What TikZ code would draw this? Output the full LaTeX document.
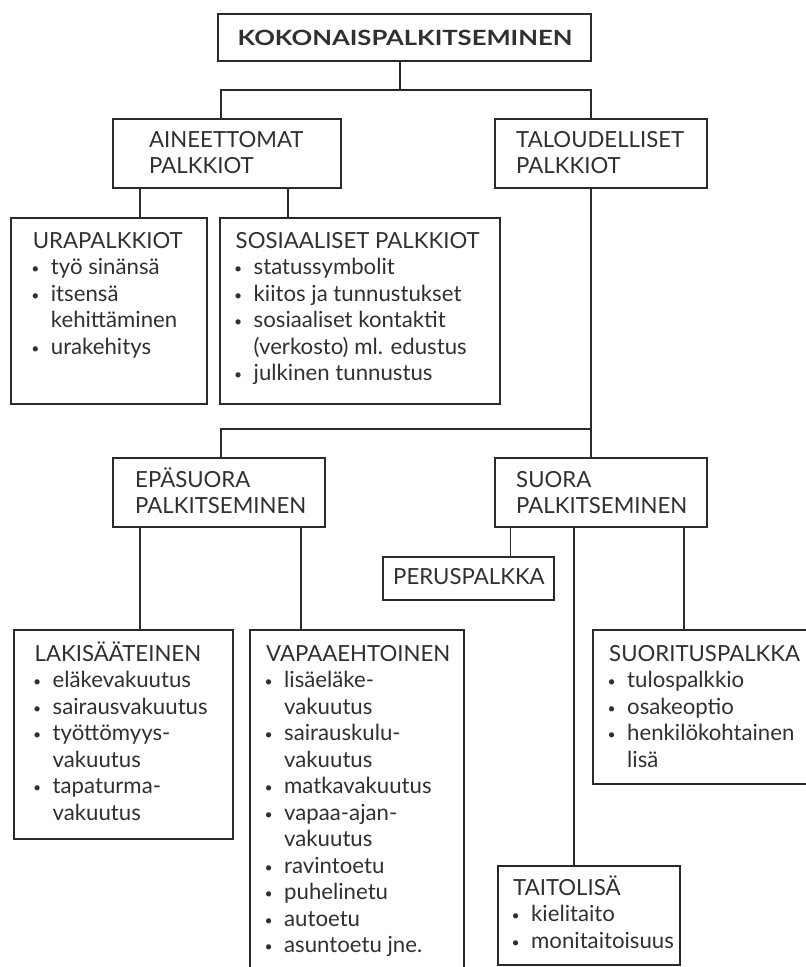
\documentclass[tikz,border=0pt]{standalone}
\usepackage{fontspec}
\setmainfont{Lato}
\definecolor{ink}{HTML}{2A2A2A}
\definecolor{txt}{HTML}{303030}
\newcommand{\mybul}{\hbox to 5pt{\hss\raisebox{1pt}{\fontsize{14}{14}\selectfont\textbullet}\hss}}
\newcommand{\myitem}[1]{\hbox{\mybul\hskip 13pt #1}}
\newcommand{\mycont}[1]{\hbox{\hskip 18pt #1}}
\newcommand{\myblock}[1]{\vtop{\baselineskip=26.5pt\lineskiplimit=-100pt\lineskip=0pt #1}}
\tikzset{
  box/.style={draw=ink, line width=1.6pt, rectangle, inner sep=0pt},
  lbl/.style={anchor=base west, inner sep=0pt, text=txt, font=\fontsize{22.2}{26.5}\selectfont},
  conn/.style={draw=ink, line width=1.6pt}
}
\newcommand{\boxat}[5]{\node[box, minimum width={(#4-#2)*1pt}, minimum height={(#5-#3)*1pt}] (#1) at ({(#2+#4)/2},{(#3+#5)/2}) {};}
\begin{document}
\begin{tikzpicture}[x=1pt,y=-1pt]
\useasboundingbox (0,0) rectangle (806,967);
\clip (0,0) rectangle (806,967);
\fill[white] (0,0) rectangle (806,967);
% boxes
\boxat{top}{218}{14}{591}{61}
\boxat{aine}{113}{119}{341}{188}
\boxat{talo}{495}{119}{707}{188}
\boxat{ura}{11}{218}{207}{404}
\boxat{sos}{220}{218}{500}{404}
\boxat{epa}{113}{458}{325}{527}
\boxat{suora}{495}{458}{707}{527}
\boxat{perus}{383}{557}{554}{600}
\boxat{laki}{14}{630}{233}{839}
\boxat{vapaa}{250}{630}{464}{990}
\boxat{suori}{593}{630}{830}{784}
\boxat{taito}{498}{866}{680}{965}
% texts
\node[lbl, anchor=base, font=\fontsize{21}{24}\bfseries] (ttop) at (405,45) {\scalebox{1.22}[1]{KOKONAISPALKITSEMINEN}};
\node[lbl] (taine) at (149,147) {\myblock{\hbox{AINEETTOMAT}\hbox{PALKKIOT}}};
\node[lbl] (ttalo) at (516,147) {\myblock{\hbox{TALOUDELLISET}\hbox{PALKKIOT}}};
\node[lbl] (tura) at (32.7,248) {\myblock{\hbox{URAPALKKIOT}\myitem{työ sinänsä}\myitem{itsensä}\mycont{kehittäminen}\myitem{urakehitys}}};
\node[lbl] (tsos) at (235.5,248) {\myblock{\hbox{SOSIAALISET PALKKIOT}\myitem{statussymbolit}\myitem{kiitos ja tunnustukset}\myitem{sosiaaliset kontaktit}\mycont{(verkosto) ml. edustus}\myitem{julkinen tunnustus}}};
\node[lbl] (tepa) at (135,487) {\myblock{\hbox{EPÄSUORA}\hbox{PALKITSEMINEN}}};
\node[lbl] (tsuora) at (516,487) {\myblock{\hbox{SUORA}\hbox{PALKITSEMINEN}}};
\node[lbl] (tperus) at (393,584) {PERUSPALKKA};
\node[lbl] (tlaki) at (34.5,661) {\myblock{\hbox{LAKISÄÄTEINEN}\myitem{eläkevakuutus}\myitem{sairausvakuutus}\myitem{työttömyys-}\mycont{vakuutus}\myitem{tapaturma-}\mycont{vakuutus}}};
\node[lbl] (tvapaa) at (266,661) {\myblock{\hbox{VAPAAEHTOINEN}\myitem{lisäeläke-}\mycont{vakuutus}\myitem{sairauskulu-}\mycont{vakuutus}\myitem{matkavakuutus}\myitem{vapaa-ajan-}\mycont{vakuutus}\myitem{ravintoetu}\myitem{puhelinetu}\myitem{autoetu}\myitem{asuntoetu jne.}}};
\node[lbl] (tsuori) at (609,661) {\myblock{\hbox{SUORITUSPALKKA}\myitem{tulospalkkio}\myitem{osakeoptio}\myitem{henkilökohtainen}\mycont{lisä}}};
\node[lbl] (ttaito) at (513,895) {\myblock{\hbox{TAITOLISÄ}\myitem{kielitaito}\myitem{monitaitoisuus}}};
% junctions and connector columns
\coordinate (j1) at (400,90);
\coordinate (j1l) at (221,90);
\coordinate (j1r) at (591,90);
\coordinate (j2l) at (221,429);
\coordinate (j2r) at (591,429);
\coordinate (c140) at (140,0);
\coordinate (c288) at (288,0);
\coordinate (c301) at (301,0);
\coordinate (c510) at (510.5,0);
\coordinate (c574) at (574,0);
\coordinate (c684) at (684,0);
% connectors
\draw[conn] (top.south -| j1) -- (j1);
\draw[conn, line join=miter] (aine.north -| j1l) -- (j1l) -- (j1r) -- (talo.north -| j1r);
\draw[conn] (aine.south -| c140) -- (ura.north -| c140);
\draw[conn] (aine.south -| c288) -- (sos.north -| c288);
\draw[conn] (talo.south -| j2r) -- (suora.north -| j2r);
\draw[conn, line join=miter] (j2r) -- (j2l) -- (epa.north -| j2l);
\draw[conn] (epa.south -| c140) -- (laki.north -| c140);
\draw[conn] (epa.south -| c301) -- (vapaa.north -| c301);
\draw[conn] (suora.south -| c510) -- (perus.north -| c510);
\draw[conn] (suora.south -| c574) -- (taito.north -| c574);
\draw[conn] (suora.south -| c684) -- (suori.north -| c684);
\end{tikzpicture}
\end{document}
